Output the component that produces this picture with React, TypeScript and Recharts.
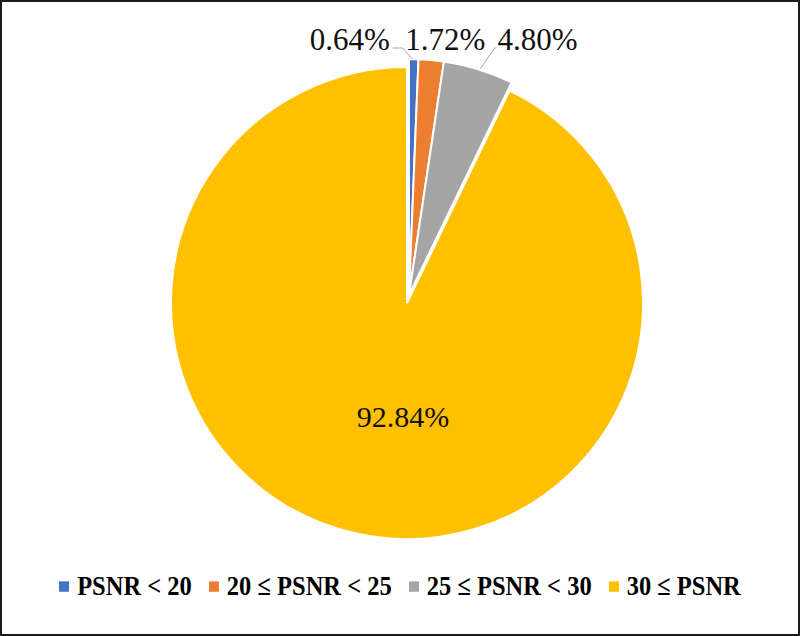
import React from 'react';
import { PieChart, Pie, Cell, Legend } from 'recharts';

const CATEGORIES = ['PSNR < 20', '20 ≤ PSNR < 25', '25 ≤ PSNR < 30', '30 ≤ PSNR'];
const SHARES = [0.64, 1.72, 4.8, 92.84];
const COLORS = ['#4472C4', '#ED7D31', '#A5A5A5', '#FFC000'];

const data = CATEGORIES.map((name, i) => ({ name, value: SHARES[i] }));

const RADIAN = Math.PI / 180;
const FONT = '"Liberation Serif", "Times New Roman", serif';
const LINE = '#A6A6A6';

const fmt = (v: number) => `${v.toFixed(2)}%`;

// small slices sit above the pie, with leader lines for the outer two
const smallLabel = (props: any) => {
  const { cx, cy, midAngle, outerRadius, index, value } = props;
  if (index > 2) return null;
  const ex = cx + outerRadius * Math.cos(-midAngle * RADIAN);
  const ey = cy + outerRadius * Math.sin(-midAngle * RADIAN);
  const base = cy - outerRadius - 9;
  const lineY = base - 2;
  const common = { fontFamily: FONT, fontSize: 31, fill: '#111' };
  if (index === 0) {
    return (
      <g key="l0">
        <polyline
          points={`${ex - 21},${lineY} ${ex - 11},${lineY} ${ex - 1.5},${ey}`}
          fill="none"
          stroke={LINE}
          strokeWidth={1}
        />
        <text x={ex - 24} y={base} textAnchor="end" {...common}>
          {fmt(value)}
        </text>
      </g>
    );
  }
  if (index === 1) {
    return (
      <text key="l1" x={ex + 14} y={base} textAnchor="middle" {...common}>
        {fmt(value)}
      </text>
    );
  }
  return (
    <g key="l2">
      <polyline
        points={`${ex + 2},${ey - 1} ${ex + 16},${lineY} ${ex + 18},${lineY}`}
        fill="none"
        stroke={LINE}
        strokeWidth={1}
      />
      <text x={ex + 19} y={base} textAnchor="start" {...common}>
        {fmt(value)}
      </text>
    </g>
  );
};

const bigLabel = (props: any) => {
  const { cx, cy, index, value } = props;
  if (index !== 3) return null;
  return (
    <text
      key="big"
      x={cx - 4}
      y={cy + 113}
      textAnchor="middle"
      dominantBaseline="central"
      fontFamily={FONT}
      fontSize={30}
      fill="#111"
    >
      {fmt(value)}
    </text>
  );
};

const LegendContent = () => (
  <div
    style={{
      display: 'flex',
      justifyContent: 'center',
      alignItems: 'center',
      gap: 17,
      fontFamily: FONT,
      fontWeight: 'bold',
      fontSize: 24.5,
      color: '#000',
      transform: 'scaleY(1.15)',
    }}
  >
    {CATEGORIES.map((c, i) => (
      <div key={c} style={{ display: 'flex', alignItems: 'center', gap: 8 }}>
        <span
          style={{
            width: 10,
            height: 9,
            background: COLORS[i],
            display: 'inline-block',
          }}
        />
        <span>{c}</span>
      </div>
    ))}
  </div>
);

export default function App() {
  return (
    <div
      style={{
        position: 'absolute',
        top: 0,
        left: 0,
        width: 800,
        height: 636,
        boxSizing: 'border-box',
        border: '2px solid #1a1a1a',
        background: '#fff',
      }}
    >
      <div style={{ position: 'absolute', top: -2, left: -2 }}>
        <PieChart width={800} height={636}>
          {/* main slice */}
          <Pie
            data={data}
            dataKey="value"
            cx={402}
            cy={298}
            outerRadius={236}
            startAngle={90}
            endAngle={-270}
            label={bigLabel}
            labelLine={false}
            isAnimationActive={false}
          >
            {data.map((d, i) => (
              <Cell
                key={d.name}
                fill={i === 3 ? COLORS[i] : 'none'}
                stroke={i === 3 ? '#fff' : 'none'}
                strokeWidth={2}
              />
            ))}
          </Pie>
          {/* small slices, pulled out slightly */}
          <Pie
            data={data}
            dataKey="value"
            cx={404}
            cy={290}
            outerRadius={236}
            startAngle={90}
            endAngle={-270}
            label={smallLabel}
            labelLine={false}
            isAnimationActive={false}
          >
            {data.map((d, i) => (
              <Cell
                key={d.name}
                fill={i < 3 ? COLORS[i] : 'none'}
                stroke={i < 3 ? '#fff' : 'none'}
                strokeWidth={2}
              />
            ))}
          </Pie>
          <Legend
            content={<LegendContent />}
            wrapperStyle={{ top: 572, left: 0, width: 800 }}
          />
        </PieChart>
      </div>
    </div>
  );
}
